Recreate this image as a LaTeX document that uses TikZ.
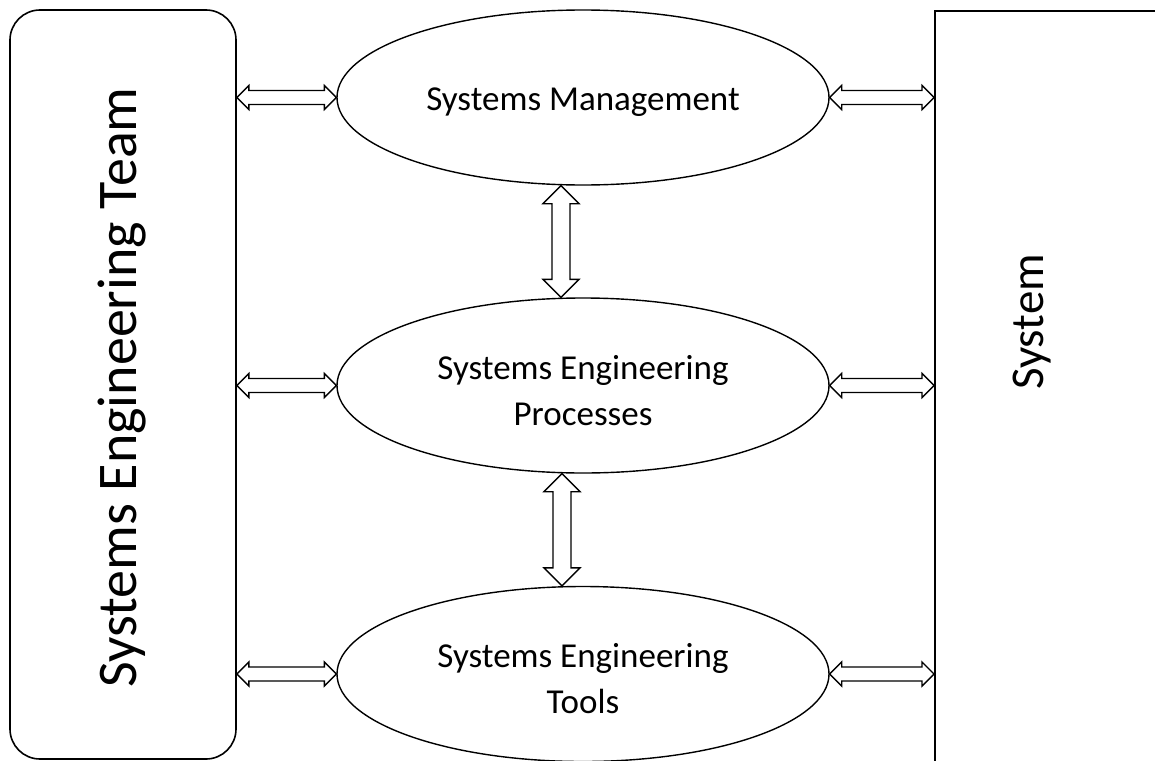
\documentclass[tikz,border=0pt]{standalone}
\usepackage{fontspec}
\setmainfont{Carlito}
\usetikzlibrary{calc,shapes.geometric}
\tikzset{
  ahl/.store in=\ahl, ahw/.store in=\ahw, asw/.store in=\asw,
  % hollow two-headed block arrow drawn between two points
  blockarrow/.style={draw, fill=white, line width=1.4pt, line join=miter,
    to path={let \p1=(\tikztostart), \p2=(\tikztotarget),
      \n1={atan2(\y2-\y1,\x2-\x1)}, \n2={veclen(\x2-\x1,\y2-\y1)} in
      (\p1)
      -- ($(\p1)+(\n1:\ahl)+(\n1+90:\ahw)$)
      -- ($(\p1)+(\n1:\ahl)+(\n1+90:\asw)$)
      -- ($(\p1)+(\n1:\n2-\ahl)+(\n1+90:\asw)$)
      -- ($(\p1)+(\n1:\n2-\ahl)+(\n1+90:\ahw)$)
      -- (\p2)
      -- ($(\p1)+(\n1:\n2-\ahl)+(\n1-90:\ahw)$)
      -- ($(\p1)+(\n1:\n2-\ahl)+(\n1-90:\asw)$)
      -- ($(\p1)+(\n1:\ahl)+(\n1-90:\asw)$)
      -- ($(\p1)+(\n1:\ahl)+(\n1-90:\ahw)$)
      -- cycle}},
  harrow/.style={blockarrow, ahl=12pt, ahw=12pt, asw=7pt},
  varrow/.style={blockarrow, ahl=18pt, ahw=18pt, asw=9pt},
  activity/.style={draw, ellipse, line width=1.4pt, minimum width=492pt,
    minimum height=175pt, inner sep=0pt},
  actlabel/.style={align=center, inner sep=0pt,
    font=\fontsize{35}{46}\selectfont},
  sidebox/.style={draw, line width=1.6pt, inner sep=0pt},
}
\begin{document}
\begin{tikzpicture}[x=1pt,y=1pt]
  \useasboundingbox (0,0) rectangle (1155,-760);
  \fill[white] (0,0) rectangle (1155,-760);

  % side blocks
  \node[sidebox, rounded corners=30pt, minimum width=226pt,
        minimum height=749pt] (team) at (123,-384.5) {};
  \node[rotate=90, font=\fontsize{56}{62}\selectfont]
        (teamtxt) at (122,-387.5) {Systems Engineering Team};
  \node[sidebox, anchor=north west, minimum width=260pt, minimum height=800pt]
        (sys) at (934,-10) {};
  \node[rotate=90, font=\fontsize{47}{52}\selectfont] (systxt) at (1032,-322) {System};

  % activities
  \node[activity] (sm)  at (583,-97.5) {};
  \node[activity] (sep) at (583,-385.5) {};
  \node[activity] (set) at (583,-674) {};
  \node[actlabel] (smtxt)  at ([yshift=-5pt]sm.center)  {Systems Management};
  \node[actlabel] (septxt) at ([yshift=-5pt]sep.center) {Systems Engineering\\Processes};
  \node[actlabel] (settxt) at ([yshift=-5pt]set.center) {Systems Engineering\\Tools};

  % links to the team and to the system
  \foreach \e in {sm,sep,set}{
    \draw[harrow] (team.east |- \e.west) to (\e.west);
    \draw[harrow] (\e.east) to (\e.east -| sys.west);
  }

  % links between activities
  \draw[varrow] ([xshift=-22pt]sm.south) to ([xshift=-22pt]sep.north);
  \draw[varrow] ([xshift=-21pt]sep.south) to ([xshift=-21pt]set.north);
\end{tikzpicture}
\end{document}
